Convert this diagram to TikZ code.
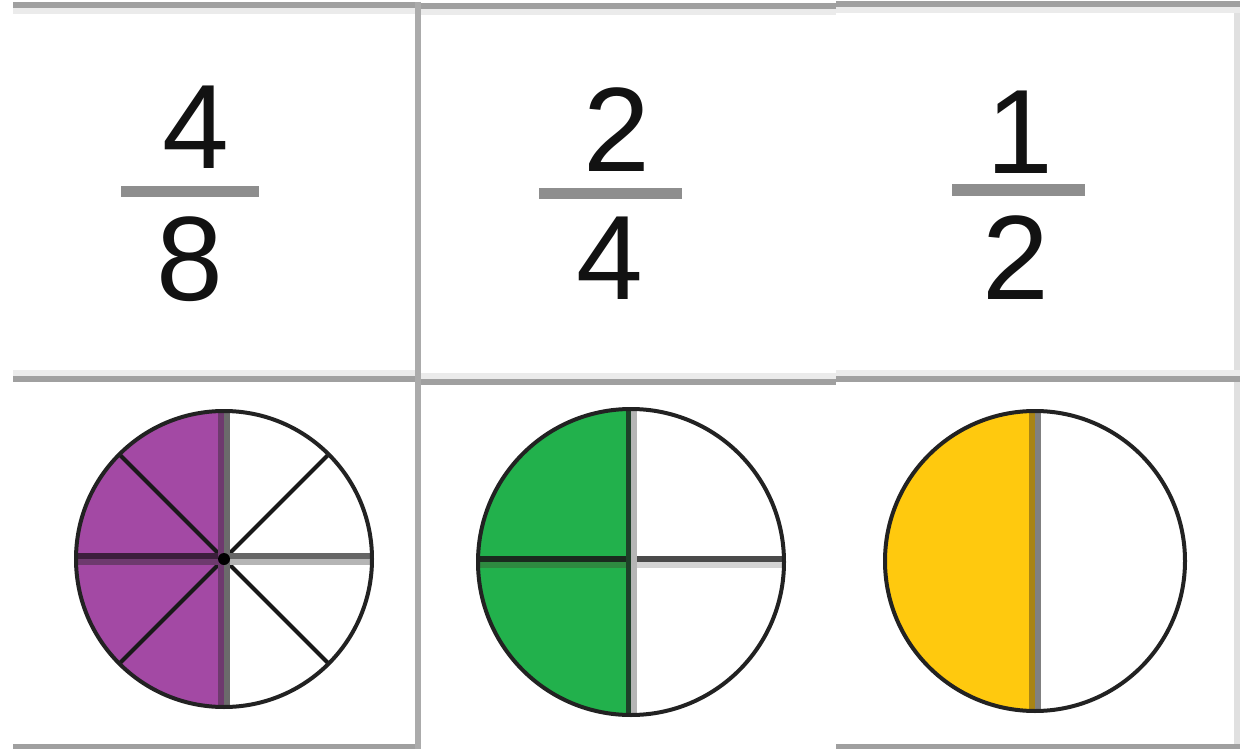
\documentclass[tikz,border=0pt]{standalone}
\usepackage{fontspec}
\setmainfont{Liberation Sans}
\definecolor{gridgray}{HTML}{A0A0A0}
\definecolor{gridshade}{HTML}{EBEBEB}
\definecolor{vgray}{HTML}{ABABAB}
\definecolor{rborder}{HTML}{E0E0E0}
\definecolor{bargray}{HTML}{8E8E8E}
\definecolor{fpurple}{HTML}{A349A4}
\definecolor{fgreen}{HTML}{22B14C}
\definecolor{fyellow}{HTML}{FFC90E}
\definecolor{outl}{HTML}{222222}
\definecolor{pdark}{HTML}{6E3A6E}
\definecolor{pblack}{HTML}{3C1E3C}
\definecolor{gdark}{HTML}{1E4028}
\definecolor{gblack}{HTML}{1A2A1E}
\definecolor{gmid}{HTML}{2E8A40}
\definecolor{olive}{HTML}{A88414}
\begin{document}
\begin{tikzpicture}[x=1pt,y=-1pt,
  gline/.style={draw=gridgray,line width=6},
  gshade/.style={draw=gridshade,line width=6},
  digit/.style={font=\fontsize{120}{120}\selectfont,inner sep=0pt,text=black!93},
  fbar/.style={draw=bargray,line width=11},
  outline/.style={draw=outl,line width=4},
  diag/.style={draw=black!90,line width=4},
  strip/.style={line width=6}]
\useasboundingbox (0,0) rectangle (1248,749);
\fill[white] (0,0) rectangle (1248,749);
% table lines
\draw[draw=rborder,line width=6] (1237,2) -- (1237,749);
\draw[gshade] (13,11) -- (418,11);
\draw[gline] (13,5) -- (418,5);
\draw[gshade] (418,12) -- (836,12);
\draw[gline] (418,6) -- (836,6);
\draw[gshade] (836,10.5) -- (1240,10.5);
\draw[gline] (836,4.5) -- (1240,4.5);
\draw[gshade] (13,373) -- (418,373);
\draw[gline] (13,379) -- (418,379);
\draw[gshade] (418,376) -- (836,376);
\draw[gline] (418,382) -- (836,382);
\draw[gshade] (836,373) -- (1240,373);
\draw[gline] (836,379) -- (1240,379);
\draw[draw=gridgray,line width=5] (13,746.5) -- (418,746.5);
\draw[draw=gridgray,line width=5] (836,746.5) -- (1240,746.5);
\draw[draw=vgray,line width=6] (418,2) -- (418,749);
% fractions
\node[digit] (n1) at (196,127.5) {4};
\node[digit] (d1) at (190,259.5) {8};
\draw[fbar] (121,191.5) -- (259,191.5);
\node[digit] (n2) at (617,130) {2};
\node[digit] (d2) at (610,258) {4};
\draw[fbar] (539,193.5) -- (682,193.5);
\node[digit] (n3) at (1020,132) {1};
\node[digit] (d3) at (1016,258) {2};
\draw[fbar] (952,190) -- (1085,190);
% circle 1: 4/8
\coordinate (c1) at (224,559);
\begin{scope}
\clip (c1) circle[radius=148];
\fill[fpurple] ([shift={(-160,-160)}]c1) rectangle ([shift={(-3,160)}]c1);
\draw[diag] ([shift={(45:160)}]c1) -- ([shift={(225:160)}]c1);
\draw[diag] ([shift={(135:160)}]c1) -- ([shift={(315:160)}]c1);
\draw[strip,draw=pblack] ([shift={(-160,-3)}]c1) -- ([shift={(0,-3)}]c1);
\draw[strip,draw=pdark] ([shift={(-160,3)}]c1) -- ([shift={(0,3)}]c1);
\draw[strip,draw=black!60] ([shift={(0,-3)}]c1) -- ([shift={(160,-3)}]c1);
\draw[strip,draw=black!29] ([shift={(0,3)}]c1) -- ([shift={(160,3)}]c1);
\draw[strip,draw=pdark] ([shift={(-3,-160)}]c1) -- ([shift={(-3,160)}]c1);
\draw[strip,draw=black!58] ([shift={(3,-160)}]c1) -- ([shift={(3,160)}]c1);
\end{scope}
\fill[black] (c1) circle[radius=6];
\draw[outline] (c1) circle[radius=148];
% circle 2: 2/4
\coordinate (c2) at (631,562);
\begin{scope}
\clip (c2) circle[radius=153];
\fill[fgreen] ([shift={(-160,-160)}]c2) rectangle ([shift={(-3,160)}]c2);
\draw[strip,draw=gblack] ([shift={(-160,-3)}]c2) -- ([shift={(0,-3)}]c2);
\draw[strip,draw=gmid] ([shift={(-160,3)}]c2) -- ([shift={(0,3)}]c2);
\draw[strip,draw=black!71] ([shift={(0,-3)}]c2) -- ([shift={(160,-3)}]c2);
\draw[strip,draw=black!17] ([shift={(0,3)}]c2) -- ([shift={(160,3)}]c2);
\draw[strip,draw=gdark] ([shift={(-2.5,-160)}]c2) -- ([shift={(-2.5,160)}]c2);
\draw[strip,draw=black!29] ([shift={(3,-160)}]c2) -- ([shift={(3,160)}]c2);
\end{scope}
\draw[outline] (c2) circle[radius=153];
% circle 3: 1/2
\coordinate (c3) at (1035,561);
\begin{scope}
\clip (c3) circle[radius=150];
\fill[fyellow] ([shift={(-160,-160)}]c3) rectangle ([shift={(-3,160)}]c3);
\draw[strip,draw=olive] ([shift={(-3,-160)}]c3) -- ([shift={(-3,160)}]c3);
\draw[strip,draw=black!50] ([shift={(3,-160)}]c3) -- ([shift={(3,160)}]c3);
\end{scope}
\draw[outline] (c3) circle[radius=150];
\end{tikzpicture}
\end{document}
